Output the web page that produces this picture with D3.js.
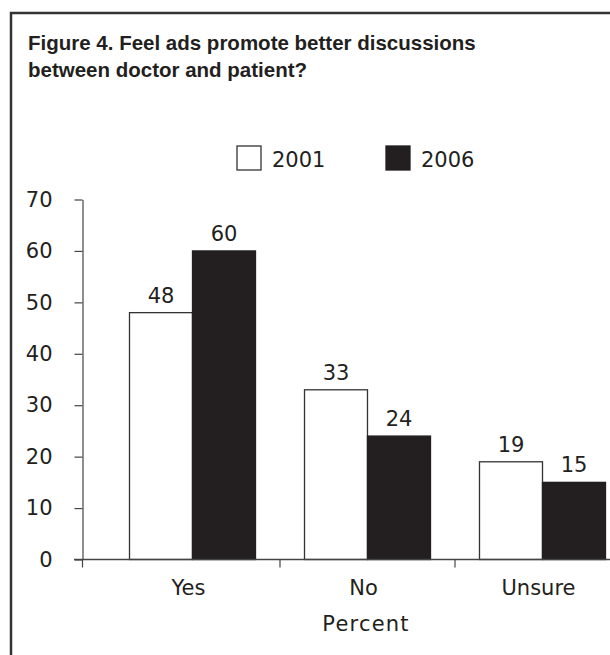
<!DOCTYPE html>
<html>
<head>
<meta charset="utf-8">
<script src="https://cdn.jsdelivr.net/npm/d3@7"></script>
<style>
  body { margin: 0; background: #fff; }
  svg text { font-family: "DejaVu Sans", sans-serif; fill: #231f20; }
</style>
</head>
<body>
<div id="chart"></div>
<script>
const categories = ['Yes', 'No', 'Unsure'];
const years = ['2001', '2006'];
const values2001 = [48, 33, 19];
const values2006 = [60, 24, 15];
const yTicks = [0, 10, 20, 30, 40, 50, 60, 70];
const titleLines = ['Figure 4. Feel ads promote better discussions', 'between doctor and patient?'];
const xTitle = 'Percent';

const width = 610, height = 655;
const ink = '#231f20';
const fs = '21px';

const svg = d3.select('#chart')
              .append('svg')
              .attr('width', width)
              .attr('height', height);

// frame (runs off the right and bottom edge like the scan)
svg.append('rect')
   .attr('x', 11)
   .attr('y', 13)
   .attr('width', 640)
   .attr('height', 700)
   .style('fill', 'none')
   .style('stroke', '#333')
   .style('stroke-width', 2.5);

svg.selectAll('.title')
   .data(titleLines)
   .enter()
   .append('text')
   .attr('class', 'title')
   .attr('x', 28)
   .attr('y', (d, i) => 50 + i * 27)
   .style('font-family', '"Liberation Sans", Arial, sans-serif')
   .style('font-weight', 'bold')
   .style('font-size', '20.5px')
   .text(d => d);

let data = categories.map((c, i) => ({cat: c, vals: [values2001[i], values2006[i]]}));

let scaleY = d3.scaleLinear().domain([0, 70]).range([559.5, 199.5]);
let scaleX0 = d3.scaleBand().domain(categories).range([105, 630]);
let groupW = 126;
let scaleX1 = d3.scaleBand().domain(years).range([0, groupW]);
let offset = (scaleX0.bandwidth() - groupW) / 2;

let yAxis = d3.axisLeft(scaleY).tickValues(yTicks).tickSize(8).tickSizeOuter(0).tickPadding(22);

let yAxisGroup = svg.append('g')
                    .attr('class', 'y axis')
                    .attr('transform', 'translate(82.5,0)')
                    .call(yAxis);
yAxisGroup.selectAll('path, line').style('stroke', '#444').style('stroke-width', 1.2);
yAxisGroup.selectAll('text').style('font-size', fs).style('font-family', '"DejaVu Sans", sans-serif').style('fill', ink);

// bars
let groups = svg.selectAll('.grp')
                .data(data)
                .enter()
                .append('g')
                .attr('class', 'grp')
                .attr('transform', d => 'translate(' + (scaleX0(d.cat) + offset) + ',0)');

groups.selectAll('rect')
      .data(d => d.vals.map((v, j) => ({year: years[j], v: v})))
      .enter()
      .append('rect')
      .attr('x', d => scaleX1(d.year))
      .attr('y', d => scaleY(d.v))
      .attr('width', scaleX1.bandwidth())
      .attr('height', d => scaleY(0) - scaleY(d.v))
      .style('fill', d => d.year == '2001' ? '#fff' : ink)
      .style('stroke', d => d.year == '2001' ? '#333' : ink)
      .style('stroke-width', 1.3);

groups.selectAll('.val')
      .data(d => d.vals.map((v, j) => ({year: years[j], v: v})))
      .enter()
      .append('text')
      .attr('class', 'val')
      .attr('x', d => scaleX1(d.year) + scaleX1.bandwidth() / 2)
      .attr('y', d => scaleY(d.v) - 10)
      .style('text-anchor', 'middle')
      .style('font-size', fs)
      .text(d => d.v);

// x axis
let y0 = scaleY(0);
svg.append('line')
   .attr('x1', 74).attr('x2', 610)
   .attr('y1', y0).attr('y2', y0)
   .style('stroke', '#444').style('stroke-width', 1.4);

let tickXs = [82.5].concat(categories.slice(1).map(c => scaleX0(c)));
svg.selectAll('.xtick')
   .data(tickXs)
   .enter()
   .append('line')
   .attr('class', 'xtick')
   .attr('x1', d => d).attr('x2', d => d)
   .attr('y1', y0).attr('y2', y0 + 8)
   .style('stroke', '#444').style('stroke-width', 1.2);

svg.selectAll('.xlab')
   .data(categories)
   .enter()
   .append('text')
   .attr('class', 'xlab')
   .attr('x', d => scaleX0(d) + scaleX0.bandwidth() / 2 - 4)
   .attr('y', 595)
   .style('text-anchor', 'middle')
   .style('font-size', fs)
   .text(d => d);

svg.append('text')
   .attr('x', 366)
   .attr('y', 631)
   .style('text-anchor', 'middle')
   .style('font-size', fs)
   .style('letter-spacing', '1.2px')
   .text(xTitle);

// legend
let legend = svg.selectAll('.leg')
                .data(years)
                .enter()
                .append('g')
                .attr('class', 'leg')
                .attr('transform', (d, i) => 'translate(' + (237 + i * 149) + ',146)');

legend.append('rect')
      .attr('width', 24)
      .attr('height', 24)
      .style('fill', d => d == '2001' ? '#fff' : ink)
      .style('stroke', d => d == '2001' ? '#333' : ink)
      .style('stroke-width', 1.3);

legend.append('text')
      .attr('x', 35)
      .attr('y', 21)
      .style('font-size', fs)
      .text(d => d);
</script>
</body>
</html>
